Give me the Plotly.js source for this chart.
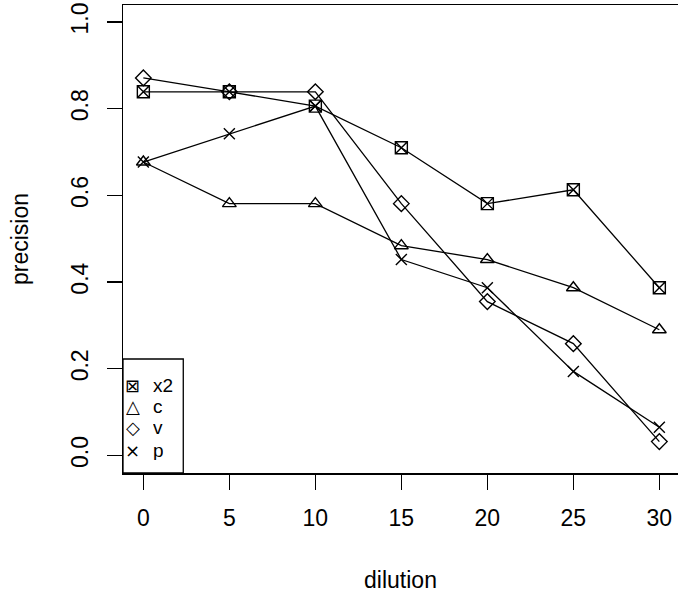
<!DOCTYPE html>
<html>
<head>
<meta charset="utf-8">
<script src="https://cdn.plot.ly/plotly-3.0.1.min.js"></script>
<style>html,body{margin:0;padding:0;background:#fff;}#chart{width:678px;height:594px;}</style>
</head>
<body>
<div id="chart"></div>
<script>
// Data
const dilution = [0, 5, 10, 15, 20, 25, 30];
const x2 = [0.839, 0.839, 0.806, 0.710, 0.581, 0.613, 0.387];
const c  = [0.677, 0.581, 0.581, 0.484, 0.452, 0.387, 0.290];
const v  = [0.871, 0.839, 0.839, 0.581, 0.355, 0.258, 0.032];
const p  = [0.677, 0.742, 0.806, 0.452, 0.387, 0.194, 0.065];
const seriesNames = ['x2', 'c', 'v', 'p'];
const legendGlyphs = ['\u22A0', '\u25B3', '\u25C7', '\u00D7'];
const xTicks = [0, 5, 10, 15, 20, 25, 30];
const yTicks = [0.0, 0.2, 0.4, 0.6, 0.8, 1.0];
const yTickText = ['0.0', '0.2', '0.4', '0.6', '0.8', '1.0'];

const FONT = 'Liberation Sans, Arial, Helvetica, sans-serif';
const symbols = ['square-x-open', 'triangle-up-open', 'diamond-open', 'x-thin-open'];
const sizes = [12, 12, 12, 11];
const seriesValues = [x2, c, v, p];

const traces = seriesValues.map((ys, i) => ({
  type: 'scatter', mode: 'lines+markers',
  x: dilution, y: ys, name: seriesNames[i],
  line: {color: '#000', width: 1.3},
  marker: {symbol: symbols[i], size: sizes[i], color: '#000', line: {color: '#000', width: 1.4}},
  showlegend: false, hoverinfo: 'skip'
}));

// manual legend (R style box in bottom-left)
const legY = [0.188, 0.1417, 0.0962, 0.0491];
const annotations = [];
seriesNames.forEach((n, i) => {
  annotations.push({xref: 'paper', yref: 'paper', x: 0.018, y: legY[i], text: legendGlyphs[i],
    showarrow: false, xanchor: 'center', yanchor: 'middle', height: 19, valign: 'middle',
    font: {family: 'DejaVu Sans', size: 18, color: '#000'}});
  annotations.push({xref: 'paper', yref: 'paper', x: 0.0505, y: legY[i], text: n,
    showarrow: false, xanchor: 'left', yanchor: 'middle', height: 19, valign: 'middle',
    font: {family: FONT, size: 19, color: '#000'}});
});

const layout = {
  width: 678, height: 594,
  margin: {l: 123, r: 0, t: 5, b: 121, pad: 0},
  paper_bgcolor: '#fff', plot_bgcolor: '#fff',
  font: {family: FONT, size: 23, color: '#000'},
  showlegend: false,
  xaxis: {
    range: [-1.183, 31.084], tickmode: 'array', tickvals: xTicks, ticktext: xTicks.map(String),
    showgrid: false, zeroline: false, showline: true, mirror: true, linecolor: '#000', linewidth: 1.5,
    ticks: 'outside', ticklen: 15, tickwidth: 1.3, tickcolor: '#000', ticklabelstandoff: 9,
    tickfont: {family: FONT, size: 23, color: '#000'},
    title: {text: 'dilution', font: {family: FONT, size: 23, color: '#000'}, standoff: 42}
  },
  yaxis: {
    range: [-0.0404, 1.0392], tickmode: 'array', tickvals: yTicks, ticktext: yTickText, tickangle: -90,
    showgrid: false, zeroline: false, showline: true, mirror: false, linecolor: '#000', linewidth: 1.5,
    ticks: 'outside', ticklen: 15, tickwidth: 1.3, tickcolor: '#000', ticklabelstandoff: 9,
    tickfont: {family: FONT, size: 23, color: '#000'},
    title: {text: 'precision', font: {family: FONT, size: 23, color: '#000'}, standoff: 32}
  },
  shapes: [{type: 'rect', xref: 'paper', yref: 'paper', x0: 0, x1: 0.1086, y0: 0, y1: 0.2436,
    line: {color: '#000', width: 1.3}, fillcolor: 'rgba(0,0,0,0)'}],
  annotations: annotations
};

Plotly.newPlot('chart', traces, layout, {staticPlot: true, displayModeBar: false});
</script>
</body>
</html>
